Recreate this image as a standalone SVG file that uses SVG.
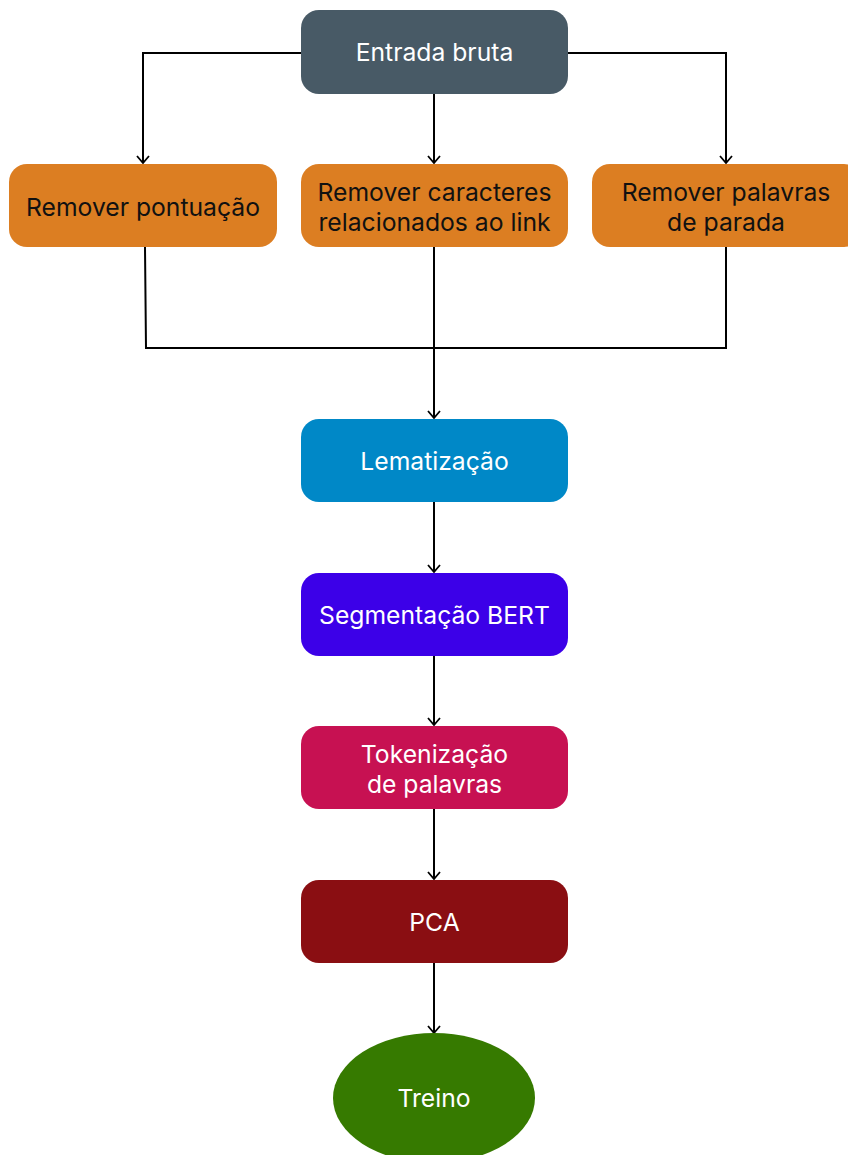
<svg xmlns="http://www.w3.org/2000/svg" width="848" height="1155" viewBox="0 0 848 1155">
  <defs>
    <marker id="arrow" viewBox="0 0 14 14" refX="13" refY="7" markerWidth="14" markerHeight="14" markerUnits="userSpaceOnUse" orient="auto">
      <path d="M6,1 L13,7 L6,13" fill="none" stroke="#000" stroke-width="1.8"/>
    </marker>
    <style>
      .lbl { font-family: Inter, "Noto Sans", "Liberation Sans", sans-serif; font-size: 24.7px; text-anchor: middle; dominant-baseline: central; }
      .light { fill: #ffffff; }
      .dark { fill: #111111; }
      .edge { fill: none; stroke: #000; stroke-width: 2; }
      .step { fill: #dc7e22; }
    </style>
  </defs>
  <rect width="848" height="1155" fill="#ffffff"/>

  <g id="connectors">
    <path class="edge" d="M301,53 H143 V163" marker-end="url(#arrow)"/>
    <path class="edge" d="M434,94 V163" marker-end="url(#arrow)"/>
    <path class="edge" d="M568,53 H726 V163" marker-end="url(#arrow)"/>
    <path class="edge" d="M145,247 L146,348 H726 V247"/>
    <path class="edge" d="M434,247 V418" marker-end="url(#arrow)"/>
    <path class="edge" d="M434,502 V572" marker-end="url(#arrow)"/>
    <path class="edge" d="M434,656 V725" marker-end="url(#arrow)"/>
    <path class="edge" d="M434,809 V879" marker-end="url(#arrow)"/>
    <path class="edge" d="M434,963 V1033" marker-end="url(#arrow)"/>
  </g>

  <g id="entrada">
    <rect x="301" y="10" width="267" height="84" rx="18" fill="#485a66"/>
    <text class="lbl light" x="434.5" y="52">Entrada bruta</text>
  </g>

  <g id="remover-pontuacao">
    <rect class="step" x="9" y="164" width="268" height="83" rx="18"/>
    <text class="lbl dark" x="143" y="207">Remover pontuação</text>
  </g>

  <g id="remover-link">
    <rect class="step" x="301" y="164" width="267" height="83" rx="18"/>
    <text class="lbl dark" x="434.5" y="192">Remover caracteres</text>
    <text class="lbl dark" x="434.5" y="222">relacionados ao link</text>
  </g>

  <g id="remover-palavras">
    <rect class="step" x="592" y="164" width="270" height="83" rx="18"/>
    <text class="lbl dark" x="726" y="192">Remover palavras</text>
    <text class="lbl dark" x="726" y="222">de parada</text>
  </g>

  <g id="lematizacao">
    <rect x="301" y="419" width="267" height="83" rx="18" fill="#0088c7"/>
    <text class="lbl light" x="434.5" y="461">Lematização</text>
  </g>

  <g id="segmentacao">
    <rect x="301" y="573" width="267" height="83" rx="18" fill="#3c00e8"/>
    <text class="lbl light" x="434.5" y="615">Segmentação BERT</text>
  </g>

  <g id="tokenizacao">
    <rect x="301" y="726" width="267" height="83" rx="18" fill="#c71152"/>
    <text class="lbl light" x="434.5" y="754">Tokenização</text>
    <text class="lbl light" x="434.5" y="784">de palavras</text>
  </g>

  <g id="pca">
    <rect x="301" y="880" width="267" height="83" rx="18" fill="#8a0e12"/>
    <text class="lbl light" x="434.5" y="922">PCA</text>
  </g>

  <g id="treino">
    <ellipse cx="434" cy="1098" rx="101" ry="65" fill="#367a00"/>
    <text class="lbl light" x="434" y="1098">Treino</text>
  </g>
</svg>
